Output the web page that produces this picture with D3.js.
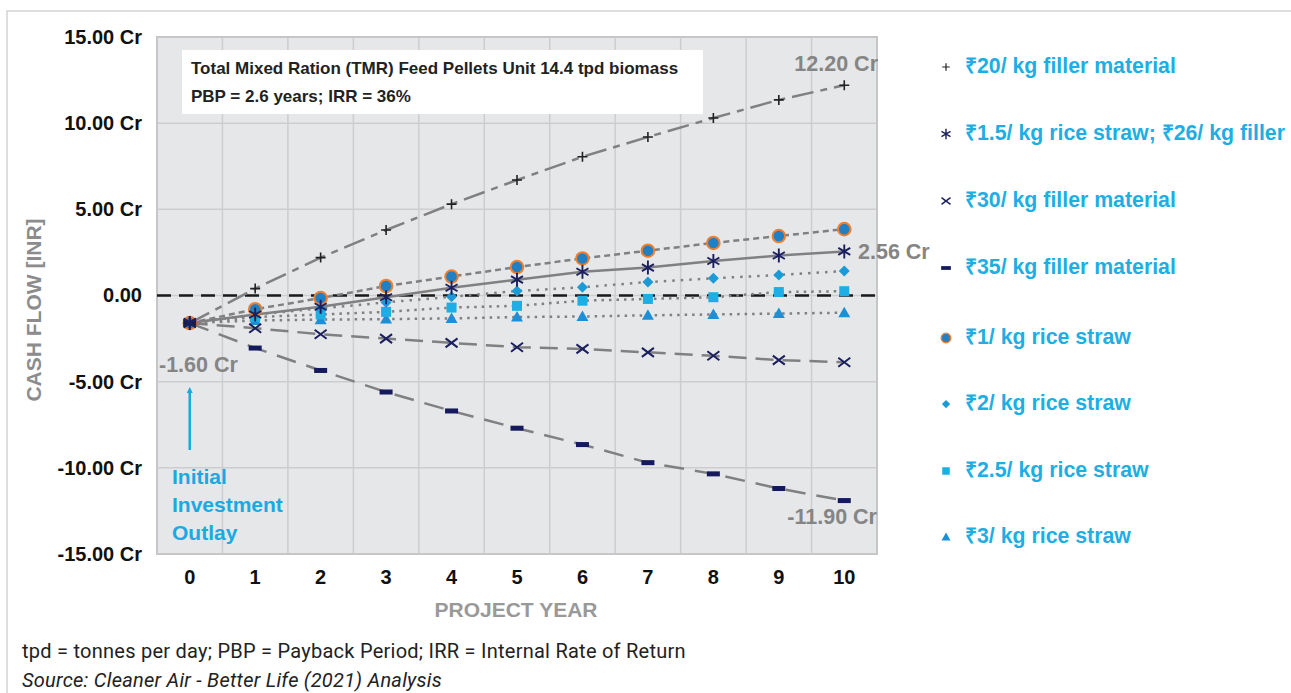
<!DOCTYPE html>
<html>
<head>
<meta charset="utf-8">
<script src="https://cdn.jsdelivr.net/npm/d3@7"></script>
<style>
  body { margin: 0; background: #fff; }
  svg { display: block; font-family: "Liberation Sans", Arial, sans-serif; }
</style>
</head>
<body>
<svg id="chart" width="1291" height="693"></svg>
<script>
// data
const years = [0, 1, 2, 3, 4, 5, 6, 7, 8, 9, 10];
const yTicks = [15, 10, 5, 0, -5, -10, -15];
const yTickLabels = ['15.00 Cr', '10.00 Cr', '5.00 Cr', '0.00', '-5.00 Cr', '-10.00 Cr', '-15.00 Cr'];

const filler20     = [-1.6, 0.4, 2.2, 3.8, 5.3, 6.7, 8.05, 9.2, 10.3, 11.35, 12.2];
const straw15      = [-1.6, -1.1, -0.65, -0.1, 0.45, 0.92, 1.38, 1.62, 2.0, 2.32, 2.56];
const filler30     = [-1.6, -1.9, -2.25, -2.5, -2.75, -3.0, -3.1, -3.3, -3.5, -3.75, -3.87];
const filler35     = [-1.6, -3.05, -4.35, -5.6, -6.7, -7.7, -8.65, -9.7, -10.35, -11.2, -11.9];
const straw1       = [-1.6, -0.8, -0.15, 0.55, 1.1, 1.65, 2.15, 2.6, 3.05, 3.45, 3.85];
const straw2       = [-1.6, -1.1, -0.75, -0.4, -0.07, 0.26, 0.48, 0.78, 1.0, 1.19, 1.42];
const straw25      = [-1.6, -1.25, -1.1, -0.95, -0.7, -0.6, -0.3, -0.2, -0.1, 0.2, 0.25];
const straw3       = [-1.6, -1.45, -1.4, -1.37, -1.33, -1.25, -1.22, -1.15, -1.1, -1.05, -1.0];

const series = [
  { name: '₹20/ kg filler material', values: filler20, mark: 'plus', dash: '22,7,7,7' },
  { name: '₹1.5/ kg rice straw; ₹26/ kg filler', values: straw15, mark: 'star', dash: null },
  { name: '₹30/ kg filler material', values: filler30, mark: 'cross', dash: '18,9' },
  { name: '₹35/ kg filler material', values: filler35, mark: 'bar', dash: '20,11' },
  { name: '₹1/ kg rice straw', values: straw1, mark: 'circle', dash: '6,4' },
  { name: '₹2/ kg rice straw', values: straw2, mark: 'diamond', dash: '2.5,6' },
  { name: '₹2.5/ kg rice straw', values: straw25, mark: 'square', dash: '2.5,5' },
  { name: '₹3/ kg rice straw', values: straw3, mark: 'triangle', dash: '2.5,5' }
];

const svg = d3.select('#chart');
const plot = { x0: 157, x1: 877, y0: 37, y1: 554 };

// outer frame
svg.append('path')
  .attr('d', 'M7,693 V11 H1291')
  .attr('fill', 'none').attr('stroke', '#d4d4d4').attr('stroke-width', 1.5);

const x = d3.scaleBand().domain(years).range([plot.x0, plot.x1]);
const xc = d => x(d) + x.bandwidth() / 2;
const y = d3.scaleLinear().domain([-15, 15]).range([plot.y1, plot.y0]);

// plot background
svg.append('rect')
  .attr('x', plot.x0).attr('y', plot.y0)
  .attr('width', plot.x1 - plot.x0).attr('height', plot.y1 - plot.y0)
  .attr('fill', '#e6e7e9');

// grid
const grid = svg.append('g').attr('stroke', '#cdcdcf').attr('stroke-width', 1.5);
years.concat([11]).forEach((d, i) => {
  const gx = plot.x0 + i * x.bandwidth();
  grid.append('line').attr('x1', gx).attr('x2', gx).attr('y1', plot.y0).attr('y2', plot.y1);
});
yTicks.forEach(t => {
  grid.append('line').attr('x1', plot.x0).attr('x2', plot.x1).attr('y1', y(t)).attr('y2', y(t));
});
svg.append('rect')
  .attr('x', plot.x0).attr('y', plot.y0)
  .attr('width', plot.x1 - plot.x0).attr('height', plot.y1 - plot.y0)
  .attr('fill', 'none').attr('stroke', '#c6c6c8').attr('stroke-width', 2);

// y axis
const yAxis = svg.append('g')
  .attr('transform', `translate(${plot.x0 - 12},0)`)
  .call(d3.axisLeft(y).tickValues(yTicks).tickSize(0).tickFormat((d, i) => yTickLabels[i]));
yAxis.select('.domain').remove();
yAxis.selectAll('text')
  .attr('font-size', 20).attr('font-weight', 'bold').attr('fill', '#111')
  .attr('font-family', '"Liberation Sans", Arial, sans-serif');

// x axis
const xAxis = svg.append('g')
  .attr('transform', `translate(0,${plot.y1 + 13})`)
  .call(d3.axisBottom(x).tickSize(0));
xAxis.select('.domain').remove();
xAxis.selectAll('text')
  .attr('font-size', 20).attr('font-weight', 'bold').attr('fill', '#111')
  .attr('font-family', '"Liberation Sans", Arial, sans-serif');

// axis titles
svg.append('text')
  .attr('transform', `translate(41,310) rotate(-90)`)
  .attr('text-anchor', 'middle')
  .attr('font-size', 21).attr('font-weight', 'bold').attr('fill', '#8c8c8c')
  .text('CASH FLOW [INR]');
svg.append('text')
  .attr('x', 516).attr('y', 617)
  .attr('text-anchor', 'middle')
  .attr('font-size', 21).attr('font-weight', 'bold').attr('fill', '#999')
  .text('PROJECT YEAR');

// zero line
svg.append('line')
  .attr('x1', plot.x0).attr('x2', plot.x1).attr('y1', y(0)).attr('y2', y(0))
  .attr('stroke', '#1a1a1a').attr('stroke-width', 2.5).attr('stroke-dasharray', '14,8');

// series lines
const line = d3.line().x((d, i) => xc(years[i])).y(d => y(d));
series.forEach(s => {
  svg.append('path')
    .datum(s.values)
    .attr('d', line)
    .attr('fill', 'none')
    .attr('stroke', '#808080')
    .attr('stroke-width', 2.5)
    .attr('stroke-dasharray', s.dash);
});

// markers
const NAVY = '#1b1f5e';
function drawMark(g, kind, cx, cy, k) {
  k = k || 1;
  const s = g.append('g').attr('transform', `translate(${cx},${cy}) scale(${k})`);
  if (kind === 'plus') {
    s.append('path').attr('d', 'M-5,0H5M0,-5V5').attr('stroke', '#222').attr('stroke-width', 1.6);
  } else if (kind === 'star') {
    s.append('path').attr('d', 'M0,-7V7M-6,-3.5L6,3.5M-6,3.5L6,-3.5')
      .attr('stroke', NAVY).attr('stroke-width', 1.9);
  } else if (kind === 'cross') {
    s.append('path').attr('d', 'M-6,-4.5L6,4.5M-6,4.5L6,-4.5')
      .attr('stroke', NAVY).attr('stroke-width', 2);
  } else if (kind === 'bar') {
    s.append('rect').attr('x', -6.5).attr('y', -2.5).attr('width', 13).attr('height', 5).attr('fill', '#151a5c');
  } else if (kind === 'circle') {
    s.append('circle').attr('r', 6.3).attr('fill', '#2180c4').attr('stroke', '#ef7f2e').attr('stroke-width', 2);
  } else if (kind === 'diamond') {
    s.append('path').attr('d', 'M0,-5.5L5.5,0L0,5.5L-5.5,0Z').attr('fill', '#1b9ad8');
  } else if (kind === 'square') {
    s.append('rect').attr('x', -5).attr('y', -5).attr('width', 10).attr('height', 10).attr('fill', '#1caee4');
  } else if (kind === 'triangle') {
    s.append('path').attr('d', 'M0,-6L6,4.5H-6Z').attr('fill', '#1c8fd6');
  }
}
const marks = svg.append('g');
series.slice().reverse().forEach(s => {
  s.values.forEach((v, i) => drawMark(marks, s.mark, xc(years[i]), y(v)));
});
// the starting point shows the star and cross on top
drawMark(marks, 'star', xc(0), y(straw15[0]));
drawMark(marks, 'cross', xc(0), y(filler30[0]));

// title box
svg.append('rect')
  .attr('x', 182).attr('y', 50).attr('width', 521).attr('height', 64).attr('fill', '#fff');
svg.append('text').attr('x', 191).attr('y', 74)
  .attr('font-size', 17).attr('font-weight', 'bold').attr('fill', '#222')
  .text('Total Mixed Ration (TMR) Feed Pellets Unit 14.4 tpd biomass');
svg.append('text').attr('x', 191).attr('y', 102)
  .attr('font-size', 17).attr('font-weight', 'bold').attr('fill', '#222')
  .text('PBP = 2.6 years; IRR = 36%');

// value labels
const lab = (tx, ty, t, anchor) => svg.append('text')
  .attr('x', tx).attr('y', ty).attr('text-anchor', anchor || 'start')
  .attr('font-size', 21.5).attr('font-weight', 'bold').attr('fill', '#858585').text(t);
lab(878, y(filler20[10]) - 14, '12.20 Cr', 'end');
lab(858, y(straw15[10]) + 8, '2.56 Cr');
lab(877, y(filler35[10]) + 23, '-11.90 Cr', 'end');
lab(159, y(-1.6) + 49, '-1.60 Cr');

// initial investment arrow
const BLUE = '#1aa9e1';
svg.append('line')
  .attr('x1', xc(0)).attr('x2', xc(0)).attr('y1', 450).attr('y2', 392)
  .attr('stroke', BLUE).attr('stroke-width', 2.5);
svg.append('path')
  .attr('d', `M${xc(0) - 3},393L${xc(0)},387L${xc(0) + 3},393Z`).attr('fill', BLUE);
['Initial', 'Investment', 'Outlay'].forEach((t, i) => {
  svg.append('text').attr('x', 172).attr('y', 484 + i * 28)
    .attr('font-size', 21).attr('font-weight', 'bold').attr('fill', BLUE).text(t);
});

// legend
const legendY = [65, 132, 199, 266, 336, 402, 469, 535];
const legend = svg.append('g');
series.forEach((s, i) => {
  drawMark(legend, s.mark, 946, legendY[i] + 2, 0.75);
  legend.append('text')
    .attr('x', 965).attr('y', legendY[i] + 8)
    .attr('font-size', 21.3).attr('font-weight', 'bold').attr('fill', '#1daee3')
    .text(s.name);
});

// footnotes
svg.append('text').attr('x', 22).attr('y', 658)
  .attr('font-family', 'Roboto, sans-serif').attr('font-size', 20).attr('fill', '#222')
  .attr('letter-spacing', 0.25)
  .text('tpd = tonnes per day; PBP = Payback Period; IRR = Internal Rate of Return');
svg.append('text').attr('x', 22).attr('y', 687)
  .attr('font-family', 'Roboto, sans-serif').attr('font-size', 20).attr('font-style', 'italic').attr('fill', '#222')
  .attr('letter-spacing', 0.25)
  .text('Source: Cleaner Air - Better Life (2021) Analysis');
</script>
</body>
</html>
